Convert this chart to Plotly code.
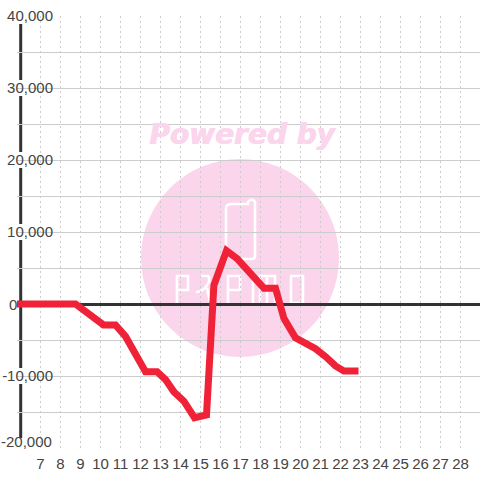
import plotly.graph_objects as go

hours = [5.825, 8.75, 10.15, 10.75, 11.25, 12.25, 12.83, 13.25, 13.67, 14.17, 14.7, 15.3, 15.67,
         16.3, 16.83, 17.5, 18.17, 18.75, 19.17, 19.75, 20.75, 21.25, 21.75, 22.17, 22.9]
values = [0, 0, -2900, -2900, -4500, -9400, -9400, -10500, -12200, -13500, -15800, -15400, 2600,
          7400, 6300, 4400, 2200, 2200, -2000, -4700, -6200, -7300, -8600, -9300, -9300]
x_ticks = list(range(7, 29))
y_ticks = [40000, 30000, 20000, 10000, -10000]
y_tick_text = ["40,000", "30,000", "20,000", "10,000", "-10,000"]
y_minor = [35000, 25000, 15000, 5000, -5000, -15000]

W, H = 480, 480
L, R, T, B = 17, 0, 16, 32
PW, PH = W - L - R, H - T - B
GREY = "#cccccc"
DARK = "#333333"
TEXT = "#444444"
PINK = "#fbd5ec"
FONT = "Liberation Sans"
FS = 15


def fx(v):
    return (v - L) / PW


def fy(v):
    return 1 - (v - T) / PH


def px(s):
    out, is_x = [], True
    for tok in s.split():
        if tok[0].isalpha():
            out.append(tok)
            is_x = True
        else:
            v = float(tok)
            out.append(f"{fx(v):.5f}" if is_x else f"{fy(v):.5f}")
            is_x = not is_x
    return " ".join(out)


logo = [
    "M 226 262 L 226 209 Q 226 204 231 204 L 248 204 L 248 202 Q 252 197 255 202 L 255 256 Q 255 259 252 259 L 232 259",
    "M 177 303 L 177 276 L 188 276 L 188 290 L 177 290",
    "M 196 292 Q 204 292 209 282 L 209 276 M 201 276 L 209 276 M 207 288 L 210 302",
    "M 228 303 L 228 276 L 240 276 L 240 290 L 228 290",
    "M 253 276 L 253 303",
    "M 260 303 L 260 276 L 275 276 L 275 303 M 267 276 L 267 303",
    "M 291 276 L 303 276 L 303 303 L 291 303 Z",
]

shapes = [
    dict(type="circle", xref="paper", yref="paper", layer="below",
         x0=fx(141), x1=fx(339), y0=fy(357), y1=fy(159), fillcolor=PINK, line_width=0),
]
for p in logo:
    shapes.append(dict(type="path", xref="paper", yref="paper", layer="below", path=px(p),
                       line=dict(color="white", width=2.6), fillcolor="rgba(0,0,0,0)"))
# the grid starts at the axis line, not at the plot edge
shapes.append(dict(type="rect", xref="paper", yref="paper", layer="between",
                   x0=0, x1=fx(21), y0=-0.01, y1=1.01, fillcolor="white", line_width=0))
# dark y axis line, then white label backings on top of it and the grid
shapes.append(dict(type="line", xref="paper", yref="paper", layer="between",
                   x0=fx(20.7), x1=fx(20.7), y0=fy(438), y1=fy(24),
                   line=dict(color=DARK, width=3)))
for v in y_ticks + [-20000]:
    shapes.append(dict(type="rect", xref="paper", yref="y", layer="between",
                       x0=0, x1=fx(53), y0=v - 1111, y1=v + 1111,
                       fillcolor="white", line_width=0))
shapes.append(dict(type="rect", xref="paper", yref="paper", layer="between",
                   x0=0, x1=fx(53), y0=-0.01, y1=fy(440), fillcolor="white", line_width=0))

fig = go.Figure()
fig.add_trace(go.Scatter(x=hours, y=values, mode="lines", cliponaxis=False, hoverinfo="skip",
                         line=dict(color="#f02238", width=7, shape="linear")))

fig.update_layout(
    width=W, height=H, showlegend=False,
    margin=dict(l=L, r=R, t=T, b=B, autoexpand=False),
    paper_bgcolor="white", plot_bgcolor="white",
    font=dict(family=FONT, size=FS, color=TEXT),
    shapes=shapes,
    xaxis=dict(range=[5.825, 28.975], tickmode="array", tickvals=x_ticks,
               ticktext=[str(t) for t in x_ticks], showgrid=True, gridcolor=GREY, gridwidth=1,
               griddash="2px,3px", zeroline=False, showline=False, ticks="outside", ticklen=2,
               tickcolor="white", automargin=False,
               tickfont=dict(family=FONT, size=FS, color=TEXT), fixedrange=True),
    yaxis=dict(range=[-20000, 40000], anchor="free", position=fx(53), tickmode="array",
               tickvals=y_ticks + [0, -20000] + y_minor,
               ticktext=y_tick_text + [""] * (2 + len(y_minor)),
               showgrid=True, gridcolor=GREY, gridwidth=1, zeroline=True,
               zerolinecolor=DARK, zerolinewidth=3, showline=False, ticks="", automargin=False,
               tickfont=dict(family=FONT, size=FS, color=TEXT), fixedrange=True),
    annotations=[
        dict(text="Powered by", xref="paper", yref="paper", x=fx(242), y=fy(134),
             showarrow=False, xanchor="center", yanchor="middle",
             font=dict(family="DejaVu Sans", size=28, color=PINK, weight="bold", style="italic",
                       shadow="1px 0 0 #fbd5ec")),
        dict(text="0", xref="paper", yref="y", x=0, y=0, showarrow=False, xanchor="right",
             yanchor="middle", borderpad=0, borderwidth=0,
             font=dict(family=FONT, size=FS, color=TEXT)),
        dict(text="-20,000", xref="paper", yref="y", x=fx(53), y=-20000, showarrow=False,
             xanchor="right", yanchor="middle", yshift=7, borderpad=0,
             font=dict(family=FONT, size=FS, color=TEXT)),
    ],
)
fig.write_html("out.html", config=dict(displayModeBar=False),
               post_script="document.body.style.margin='0';document.body.style.overflow='hidden';")
